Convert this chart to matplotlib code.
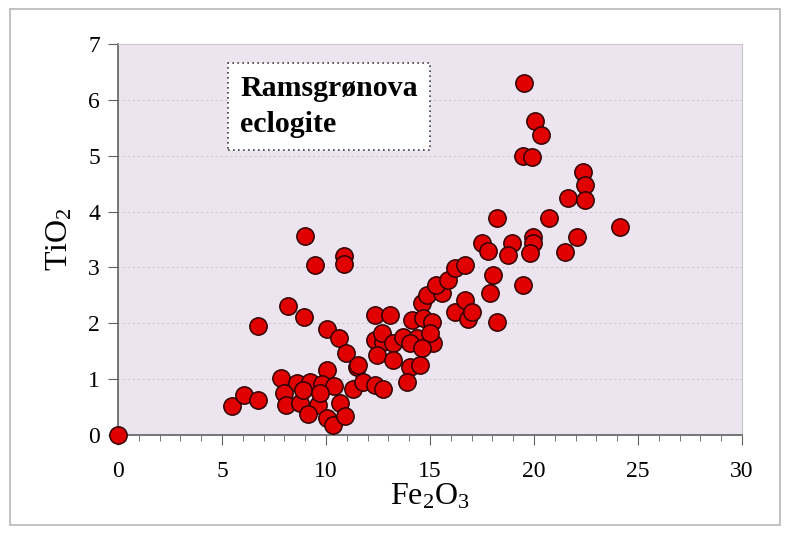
import matplotlib
matplotlib.use("Agg")
import matplotlib.pyplot as plt
from matplotlib.patches import Rectangle

# Fe2O3 vs TiO2 (wt%), Ramsgrønova eclogite
fe2o3 = [
    0.0,
    5.5, 6.07, 6.73, 6.75,
    7.84, 8.6, 9.23, 10.05, 9.8, 10.4,
    8.0, 8.1, 8.75, 8.9, 9.6, 9.13, 10.05, 10.33, 10.67, 10.9, 11.3, 11.5, 11.8, 12.36, 9.7,
    8.17, 8.94, 9.0, 9.47, 10.87, 10.87, 10.05, 10.63, 10.96, 11.54,
    12.36, 13.08, 14.13, 14.6, 14.86, 15.58, 14.66, 15.1, 12.36, 12.74, 12.7, 13.2, 13.7,
    14.38, 14.04, 15.14, 15.0, 14.6, 12.45, 13.2, 14.04, 14.5, 13.9, 12.74,
    15.3, 15.87, 16.2, 16.68, 16.2, 16.68, 16.83, 17.0,
    17.5, 17.8, 18.2, 18.03, 17.88, 18.2, 18.94, 18.75,
    19.52, 20.05, 20.34, 19.47, 19.9, 19.47, 19.95, 19.95, 19.8,
    20.72, 21.5, 21.63, 22.07, 22.36, 22.45, 22.45, 24.13,
]
tio2 = [
    0.0,
    0.52, 0.72, 0.62, 1.95,
    1.02, 0.93, 0.95, 1.16, 0.91, 0.88,
    0.75, 0.54, 0.57, 0.8, 0.54, 0.38, 0.3, 0.18, 0.57, 0.34, 0.82, 1.22, 0.95, 0.89, 0.75,
    2.31, 2.11, 3.56, 3.04, 3.2, 3.07, 1.9, 1.73, 1.47, 1.25,
    2.15, 2.15, 2.06, 2.36, 2.5, 2.54, 2.1, 2.02, 1.7, 1.66, 1.82, 1.65, 1.75,
    1.73, 1.65, 1.65, 1.82, 1.56, 1.43, 1.34, 1.22, 1.25, 0.95, 0.82,
    2.68, 2.77, 2.99, 3.04, 2.2, 2.42, 2.08, 2.2,
    3.43, 3.3, 3.88, 2.86, 2.54, 2.03, 3.43, 3.22,
    6.3, 5.63, 5.37, 5.0, 4.97, 2.68, 3.54, 3.43, 3.26,
    3.88, 3.27, 4.24, 3.54, 4.7, 4.47, 4.2, 3.72,
]
x_ticks = [0, 5, 10, 15, 20, 25, 30]
y_ticks = [0, 1, 2, 3, 4, 5, 6, 7]
label_text = "Ramsgrønova\neclogite"

plt.rcParams["font.family"] = ["Liberation Serif", "DejaVu Serif"]
plt.rcParams["mathtext.fontset"] = "custom"
plt.rcParams["mathtext.rm"] = "Liberation Serif"
plt.rcParams["mathtext.default"] = "regular"

fig = plt.figure(figsize=(7.93, 5.39), dpi=100)
ax = fig.add_axes([118 / 793, 104 / 539, 624 / 793, 391 / 539])
ax.set_facecolor("#ece4ef")

# outer frame of the chart area
fig.patches.append(Rectangle((10 / 793, 14 / 539), 770 / 793, 516 / 539,
                             transform=fig.transFigure, fill=False,
                             edgecolor="#b8b8b8", linewidth=1.2))

for y in y_ticks[1:]:
    ax.axhline(y, color="#c4c0c8", linestyle=(0, (2, 3)), linewidth=0.7, zorder=1)

ax.scatter(fe2o3, tio2, s=155, c="#e00000", edgecolors="#300000",
           linewidths=1.1, zorder=3, clip_on=False)

ax.set_xlim(0, 30)
ax.set_ylim(0, 7)
ax.set_xticks(x_ticks)
ax.set_yticks(y_ticks)
ax.set_xticks(range(0, 31), minor=True)
ax.tick_params(axis="both", which="major", direction="out", length=7,
               color="#606060", labelsize=17, pad=12)
ax.tick_params(axis="y", pad=6)
ax.tick_params(axis="x", which="minor", direction="out", length=4, color="#606060")

for side in ["top", "right"]:
    ax.spines[side].set_color("#c8c8c8")
    ax.spines[side].set_linewidth(0.8)
for side in ["left", "bottom"]:
    ax.spines[side].set_color("#606060")
    ax.spines[side].set_linewidth(1.2)

ax.set_xlabel("Fe$_2$O$_3$", fontsize=23, labelpad=0)
ax.set_ylabel("TiO$_2$", fontsize=23, labelpad=10)

ax.text(0.196, 0.84, label_text, transform=ax.transAxes, fontsize=21.5,
        fontweight="bold", va="center", ha="left", linespacing=1.4,
        bbox=dict(boxstyle="square,pad=0.42", facecolor="white",
                  edgecolor="#404040", linestyle=(0, (1, 2)), linewidth=1.2),
        zorder=4)

fig.savefig("out.png", dpi=100)
